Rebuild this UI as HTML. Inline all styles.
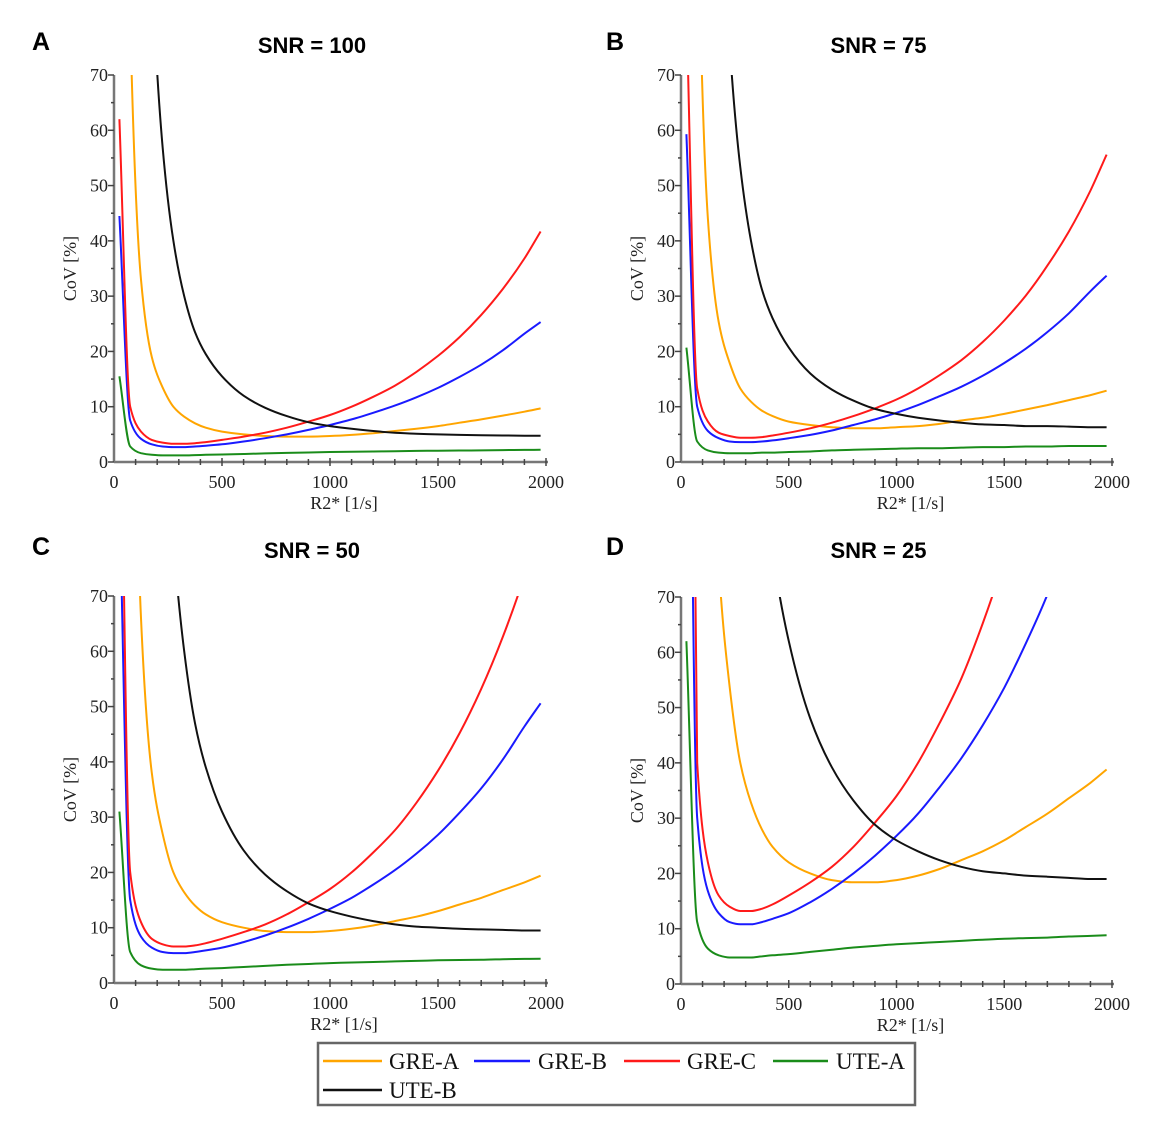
<!DOCTYPE html>
<html><head><meta charset="utf-8"><style>
html,body{margin:0;padding:0;background:#fff;}
svg{display:block;}
.tick{font-family:"Liberation Serif",serif;font-size:18px;fill:#222;}
.ttl{font-family:"Liberation Sans",sans-serif;font-weight:bold;font-size:22px;fill:#000;}
.lbl{font-family:"Liberation Sans",sans-serif;font-weight:bold;font-size:25px;fill:#000;}
.leg{font-family:"Liberation Serif",serif;font-size:23px;fill:#111;}
</style></head><body>
<svg id="fig" width="1160" height="1136" viewBox="0 0 1160 1136" xmlns="http://www.w3.org/2000/svg">
<g id="legend">
<rect x="318" y="1043" width="597" height="62" fill="#fff" stroke="#666" stroke-width="2.5"/>
<g><line x1="323" y1="1061" x2="382" y2="1061" stroke="#ffa500" stroke-width="2.5"/><text class="leg" x="389" y="1069">GRE-A</text></g>
<g><line x1="474" y1="1061" x2="530" y2="1061" stroke="#1a1aff" stroke-width="2.5"/><text class="leg" x="538" y="1069">GRE-B</text></g>
<g><line x1="624" y1="1061" x2="680" y2="1061" stroke="#ff1a1a" stroke-width="2.5"/><text class="leg" x="687" y="1069">GRE-C</text></g>
<g><line x1="773" y1="1061" x2="828" y2="1061" stroke="#1a8c1a" stroke-width="2.5"/><text class="leg" x="836" y="1069">UTE-A</text></g>
<g><line x1="323" y1="1090" x2="382" y2="1090" stroke="#111" stroke-width="2.5"/><text class="leg" x="389" y="1098">UTE-B</text></g>
</g>
</svg>
<script>
const xVals=[25,75,125,175,225,275,325,375,425,500,600,700,800,900,1000,1100,1200,1300,1400,1500,1600,1700,1800,1900,1975];
const xTicks=[0,500,1000,1500,2000];
const yTicks=[0,10,20,30,40,50,60,70];
const seriesNames=["GRE-A","GRE-B","GRE-C","UTE-A","UTE-B"];
const seriesColors=["#ffa500","#1a1aff","#ff1a1a","#1a8c1a","#111111"];
const panelLetters=["A","B","C","D"];
const panelTitles=["SNR = 100","SNR = 75","SNR = 50","SNR = 25"];
// Panel A (SNR 100)
const aGreA=[300,80,33,19,13.5,10,8.2,7,6.2,5.5,5,4.7,4.6,4.6,4.7,4.9,5.2,5.6,6,6.5,7.1,7.7,8.4,9.1,9.7];
const aGreB=[44.5,7.5,4.2,3.2,2.8,2.7,2.7,2.8,2.95,3.2,3.7,4.3,5,5.8,6.7,7.7,8.9,10.2,11.7,13.4,15.4,17.6,20.2,23.2,25.3];
const aGreC=[62,10,5.5,4,3.5,3.3,3.3,3.4,3.6,4,4.6,5.3,6.2,7.3,8.5,10,11.8,13.8,16.3,19.2,22.6,26.6,31.3,36.8,41.7];
const aUteA=[15.5,2.8,1.6,1.3,1.2,1.2,1.2,1.25,1.3,1.35,1.45,1.55,1.65,1.72,1.8,1.85,1.9,1.95,2,2.05,2.08,2.1,2.15,2.18,2.2];
const aUteB=[900,400,180,90,57,40,30,23.5,19.5,15.5,12,9.8,8.3,7.2,6.5,6,5.6,5.3,5.1,5,4.9,4.85,4.8,4.75,4.75];
// Panel B (SNR 75)
const bGreA=[400,107,44,25.3,18,13.3,10.9,9.3,8.3,7.3,6.7,6.3,6.1,6.1,6.3,6.5,6.9,7.5,8,8.7,9.5,10.3,11.2,12.1,12.9];
const bGreB=[59.3,10,5.6,4.3,3.7,3.6,3.6,3.7,3.9,4.3,4.9,5.7,6.7,7.7,8.9,10.3,11.9,13.6,15.6,17.9,20.5,23.5,26.9,30.9,33.7];
const bGreC=[82.7,13.3,7.3,5.3,4.7,4.4,4.4,4.5,4.8,5.3,6.1,7.1,8.3,9.7,11.3,13.3,15.7,18.4,21.7,25.6,30.1,35.5,41.7,49.1,55.6];
const bUteA=[20.7,3.7,2.1,1.7,1.6,1.6,1.6,1.7,1.7,1.8,1.9,2.1,2.2,2.3,2.4,2.5,2.5,2.6,2.7,2.7,2.8,2.8,2.9,2.9,2.9];
const bUteB=[1200,533,240,120,76,53.3,40,31.3,26,20.7,16,13.1,11.1,9.6,8.7,8,7.5,7.1,6.8,6.7,6.5,6.5,6.4,6.3,6.3];
// Panel C (SNR 50)
const cGreA=[600,160,66,38,27,20,16.4,14,12.4,11,10,9.4,9.2,9.2,9.4,9.8,10.4,11.2,12,13,14.2,15.4,16.8,18.2,19.4];
const cGreB=[89,15,8.4,6.4,5.6,5.4,5.4,5.6,5.9,6.4,7.4,8.6,10,11.6,13.4,15.4,17.8,20.4,23.4,26.8,30.8,35.2,40.4,46.4,50.6];
const cGreC=[124,20,11,8,7,6.6,6.6,6.8,7.2,8,9.2,10.6,12.4,14.6,17,20,23.6,27.6,32.6,38.4,45.2,53.2,62.6,73.6,83.4];
const cUteA=[31,5.6,3.2,2.6,2.4,2.4,2.4,2.5,2.6,2.7,2.9,3.1,3.3,3.44,3.6,3.7,3.8,3.9,4,4.1,4.16,4.2,4.3,4.36,4.4];
const cUteB=[1800,800,360,180,114,80,60,47,39,31,24,19.6,16.6,14.4,13,12,11.2,10.6,10.2,10,9.8,9.7,9.6,9.5,9.5];
// Panel D (SNR 25)
const dGreA=[1200,320,132,76,54,40,32.8,28,24.8,22,20,18.8,18.4,18.4,18.8,19.6,20.8,22.4,24,26,28.4,30.8,33.6,36.4,38.8];
const dGreB=[178,30,16.8,12.8,11.2,10.8,10.8,11.2,11.8,12.8,14.8,17.2,20,23.2,26.8,30.8,35.6,40.8,46.8,53.6,61.6,70.4,80.8,92.8,101];
const dGreC=[248,40,22,16,14,13.2,13.2,13.6,14.4,16,18.4,21.2,24.8,29.2,34,40,47.2,55.2,65.2,76.8,90.4,106,125,147,167];
const dUteA=[62,11.2,6.4,5.2,4.8,4.8,4.8,5,5.2,5.4,5.8,6.2,6.6,6.9,7.2,7.4,7.6,7.8,8,8.2,8.3,8.4,8.6,8.7,8.8];
const dUteB=[3600,1600,720,360,228,160,120,94,78,62,48,39.2,33.2,28.8,26,24,22.4,21.2,20.4,20,19.6,19.4,19.2,19,19];

const panelData=[[aGreA,aGreB,aGreC,aUteA,aUteB],[bGreA,bGreB,bGreC,bUteA,bUteB],[cGreA,cGreB,cGreC,cUteA,cUteB],[dGreA,dGreB,dGreC,dUteA,dUteB]];
const geom=[{x0:114,x1:546,yt:75,yb:462,lx:32,ly:50},{x0:681,x1:1112,yt:75,yb:462,lx:606,ly:50},{x0:114,x1:546,yt:596,yb:983,lx:32,ly:555},{x0:681,x1:1112,yt:597,yb:984,lx:606,ly:555}];
const NS="http://www.w3.org/2000/svg";
const svg=document.getElementById('fig');
function mk(t,a,p){const e=document.createElementNS(NS,t);for(const k in a)e.setAttribute(k,a[k]);(p||svg).appendChild(e);return e;}
// monotone cubic path through pixel points
function monoPath(px,py){
  const n=px.length,d=[],m=new Array(n);
  for(let i=0;i<n-1;i++)d.push((py[i+1]-py[i])/(px[i+1]-px[i]));
  m[0]=d[0];m[n-1]=d[n-2];
  for(let i=1;i<n-1;i++){ if(d[i-1]*d[i]<=0)m[i]=0; else { const h0=px[i]-px[i-1],h1=px[i+1]-px[i]; const w1=2*h1+h0,w2=h1+2*h0; m[i]=(w1+w2)/(w1/d[i-1]+w2/d[i]); } }
  let s='M'+px[0].toFixed(1)+','+py[0].toFixed(1);
  for(let i=0;i<n-1;i++){const h=(px[i+1]-px[i])/3;
    s+=' C'+(px[i]+h).toFixed(1)+','+(py[i]+m[i]*h).toFixed(1)+' '+(px[i+1]-h).toFixed(1)+','+(py[i+1]-m[i+1]*h).toFixed(1)+' '+px[i+1].toFixed(1)+','+py[i+1].toFixed(1);}
  return s;
}
const defs=mk('defs',{});
geom.forEach((g,pi)=>{
  const sx=v=>g.x0+(v-0)/2000*(g.x1-g.x0);
  const sy=v=>g.yb-(v/70)*(g.yb-g.yt);
  const grp=mk('g',{});
  
  
  const cp=mk('clipPath',{id:'clip'+pi},defs);
  mk('rect',{x:g.x0,y:g.yt,width:g.x1-g.x0+4,height:g.yb-g.yt},cp);
  const lt=mk('text',{class:'lbl',x:g.lx,y:g.ly},grp);lt.textContent=panelLetters[pi];
  
  
  const tt=mk('text',{class:'ttl',x:(g.x0+g.x1)/2-18,y:g.ly+3,'text-anchor':'middle'},grp);tt.textContent=panelTitles[pi];
  
  
  const sg=mk('g',{'clip-path':'url(#clip'+pi+')'},grp);
  panelData[pi].forEach((arr,si)=>{
    const px=xVals.map(sx), py=arr.map(sy);
    const pl=mk('path',{d:monoPath(px,py),fill:'none',stroke:seriesColors[si],'stroke-width':2,'stroke-linejoin':'round'},sg);
    
    
  });
  const ax=mk('g',{},grp);
  
  
  mk('line',{x1:g.x0,y1:g.yt,x2:g.x0,y2:g.yb,stroke:'#777','stroke-width':2.5},ax);
  mk('line',{x1:g.x0,y1:g.yb,x2:g.x1+2,y2:g.yb,stroke:'#777','stroke-width':2.5},ax);
  for(let v=0;v<=70;v+=5){const y=sy(v);const maj=v%10===0;mk('line',{x1:g.x0-(maj?6:3),y1:y,x2:g.x0,y2:y,stroke:'#444','stroke-width':1.5},ax);}
  for(let v=100;v<=2000;v+=100){const x=sx(v);const maj=v%500===0;mk('line',{x1:x,y1:g.yb-(maj?4:3),x2:x,y2:g.yb+(maj?4:3),stroke:'#444','stroke-width':1.5},ax);}
  yTicks.forEach(v=>{const t=mk('text',{class:'tick',x:g.x0-6,y:sy(v)+6,'text-anchor':'end'},ax);t.textContent=String(v);
    
    });
  xTicks.forEach(v=>{const t=mk('text',{class:'tick',x:sx(v),y:g.yb+26,'text-anchor':'middle'},ax);t.textContent=String(v);
    
    });
  const xl=mk('text',{class:'tick',x:(g.x0+g.x1)/2+14,y:g.yb+47,'text-anchor':'middle'},ax);xl.textContent='R2* [1/s]';
  
  
  const yl=mk('text',{class:'tick',x:0,y:0,'text-anchor':'middle',transform:'translate('+(g.x0-38)+','+((g.yt+g.yb)/2)+') rotate(-90)'},ax);yl.textContent='CoV [%]';
  
  
});
</script>
</body></html>
